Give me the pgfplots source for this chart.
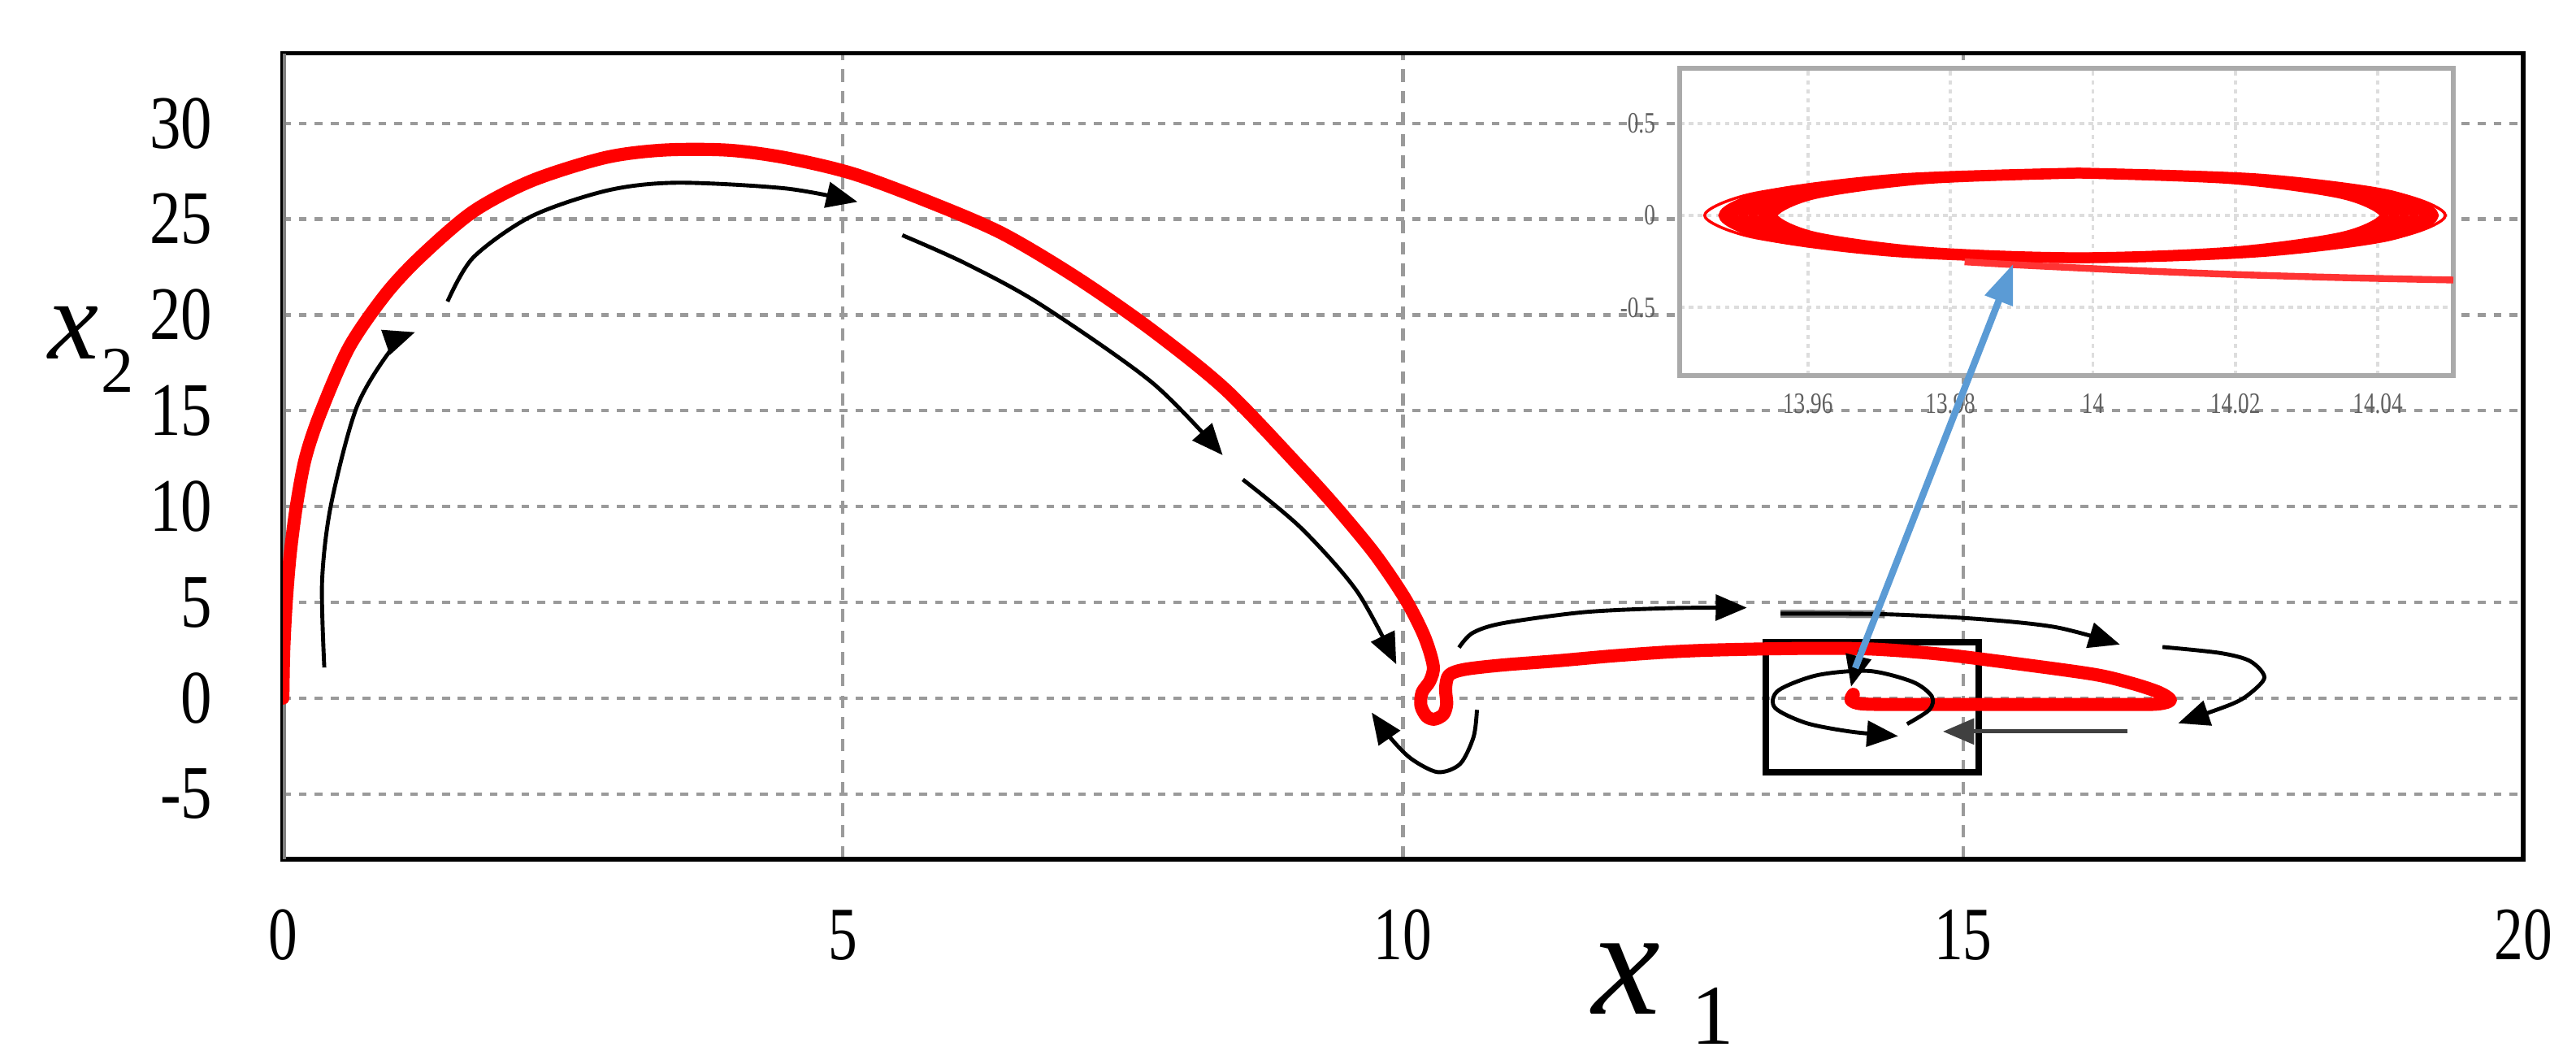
\documentclass[border=0pt]{standalone}
\usepackage{fontspec}
\setmainfont{Liberation Serif}
\usepackage{graphicx}
\usepackage{pgfplots}
\pgfplotsset{compat=1.18}
\usetikzlibrary{arrows.meta}
\definecolor{trajred}{HTML}{FF0000}
\definecolor{gridgray}{HTML}{9A9A9A}
\definecolor{insetframe}{HTML}{AAAAAA}
\definecolor{insetgrid}{HTML}{DDDDDD}
\definecolor{arrowblue}{HTML}{5B9BD5}
\definecolor{ticklab}{HTML}{606060}
\newcommand\xt[1]{\scalebox{1}[1.3]{\fontsize{10.2}{12}\selectfont #1}}
\newcommand\yt[1]{\scalebox{1}[1.21]{\fontsize{11}{13}\selectfont #1}}
\newcommand\ilab[1]{\scalebox{0.75}[1]{\fontsize{5.2}{6}\selectfont #1}}
\pgfplotsset{
  flow/.style={black, line width=0.7pt, smooth, -{Triangle[length=5.5pt,width=4.5pt]}},
  ring/.style={trajred, smooth, line width=1.6pt}}

\begin{document}
\begin{tikzpicture}
\path[use as bounding box] (-49.8pt,-35.3pt) rectangle (403.7pt,151.2pt);

% ---- main phase portrait ----
\begin{axis}[at={(0,0)}, anchor=south west, scale only axis,
    width=394.4pt, height=141.8pt,
    xmin=0, xmax=20, ymin=-8.4, ymax=33.65,
    xtick={0,5,10,15,20}, ytick={-5,0,5,10,15,20,25,30},
    xticklabels={\xt{0},\xt{5},\xt{10},\xt{15},\xt{20}},
    yticklabels={\yt{-5},\yt{0},\yt{5},\yt{10},\yt{15},\yt{20},\yt{25},\yt{30}},
    xticklabel style={anchor=center, yshift=-13.4pt, inner sep=0pt},
    yticklabel style={anchor=east, xshift=-12.2pt, inner sep=0pt},
    major tick length=0pt,
    axis line style={black, line width=0.8pt},
    xmajorgrids, ymajorgrids,
    x grid style={gridgray, line width=0.6pt, dash pattern=on 2.2pt off 1.6pt},
    y grid style={gridgray, line width=0.6pt, dash pattern=on 1.4pt off 1.4pt}]
  \draw[gray, line width=1.1pt] (rel axis cs:0,0) -- (rel axis cs:0,1);
  % zoom box
  \addplot[black, line width=1.1pt, line cap=rect] coordinates
    {(13.24,2.93)(15.14,2.93)(15.14,-3.86)(13.24,-3.86)(13.24,2.93)};
  % trajectory
  \addplot[trajred, line width=2.3pt, smooth, tension=0.5, line cap=round, line join=round] coordinates {
    (0,0)(0.008,2.5)(0.03,5)(0.065,7.5)(0.12,10)(0.2,12.5)(0.33,14.8)(0.59,18.3)
    (0.92,21.1)(1.24,23.1)(1.70,25.4)(2.22,27.0)(2.87,28.2)(3.39,28.6)(3.97,28.6)
    (4.49,28.2)(5.09,27.37)(5.76,25.92)(6.42,24.26)(7.09,21.93)(7.76,19.2)
    (8.42,16.08)(9.09,11.99)(9.42,9.85)(9.75,7.51)(10.02,5.18)(10.19,3.23)(10.27,1.68)
    (10.24,0.9)(10.17,0.3)(10.16,-0.4)(10.21,-0.95)(10.28,-1.1)(10.36,-0.85)
    (10.39,-0.3)(10.38,0.5)(10.41,1.2)(10.55,1.5)(10.89,1.73)(11.38,1.95)
    (11.86,2.2)(12.34,2.4)(12.71,2.5)(13.23,2.57)(13.7,2.6)(14.2,2.56)(14.79,2.3)
    (15.48,1.8)(16.18,1.23)(16.52,0.75)(16.75,0.3)(16.85,-0.1)(16.75,-0.3)
    (16.5,-0.33)(15.5,-0.33)(14.5,-0.33)(14.1,-0.3)(14.0,-0.1)(14.02,0.2)};
  % flow arrows
  \addplot[flow] coordinates {(0.37,1.6)(0.35,6.1)(0.43,10.1)(0.66,15.2)(0.98,18.3)(1.18,19.1)};
  \addplot[flow] coordinates {(1.47,20.7)(1.7,23.0)(2.22,25.15)(2.9,26.5)(3.52,26.9)(4.49,26.6)(5.13,25.9)};
  \addplot[flow] coordinates {(5.53,24.16)(6.09,22.7)(6.76,20.56)(7.76,16.47)(8.39,12.68)};
  \addplot[flow] coordinates {(8.57,11.41)(9.09,8.88)(9.59,5.57)(9.94,1.77)};
  \addplot[flow] coordinates {(10.66,-0.61)(10.63,-2.02)(10.51,-3.43)(10.31,-3.86)(10.07,-3.15)(9.88,-2.02)(9.72,-0.75)};
  \addplot[flow] coordinates {(10.50,2.64)(10.62,3.4)(10.89,3.91)(11.62,4.49)(12.4,4.7)(13.07,4.72)};
  \addplot[gray, line width=1.4pt] coordinates {(13.37,4.41)(14.3,4.38)};
  \addplot[flow] coordinates {(13.37,4.41)(14.3,4.38)(15.14,4.13)(15.83,3.7)(16.4,2.8)};
  \addplot[flow] coordinates {(16.78,2.67)(17.29,2.36)(17.56,1.94)(17.69,1.09)(17.56,0.24)(17.39,-0.33)(16.92,-1.31)};
  \addplot[flow, sharp plot, darkgray] coordinates {(16.47,-1.74)(14.82,-1.74)};
  \addplot[flow] coordinates {(14.5,-1.35)(14.7,-0.6)(14.72,0.1)(14.55,0.85)(14.16,1.42)(13.7,1.2)(13.35,0.4)(13.32,-0.5)(13.6,-1.3)(14.0,-1.75)(14.42,-1.98)};
  \addplot[flow, sharp plot] coordinates {(14.08,2.5)(14.0,0.6)};
\end{axis}

% ---- inset: zoom on the limit cycle ----
\begin{axis}[at={(245.9pt,85.1pt)}, anchor=south west, scale only axis,
    width=136.2pt, height=54.1pt,
    xmin=13.942, xmax=14.0506, ymin=-0.87, ymax=0.80,
    axis background/.style={fill=white},
    axis line style={insetframe, line width=0.9pt},
    major tick length=0pt, scaled ticks=false, clip=false,
    xtick={13.96,13.98,14,14.02,14.04}, ytick={-0.5,0,0.5},
    xticklabels={\ilab{13.96},\ilab{13.98},\ilab{14},\ilab{14.02},\ilab{14.04}},
    yticklabels={\ilab{-0.5},\ilab{0},\ilab{0.5}},
    xticklabel style={anchor=center, yshift=-5pt, inner sep=0pt, text=ticklab},
    yticklabel style={anchor=east, xshift=-4.1pt, inner sep=0pt, text=ticklab},
    grid=major, grid style={insetgrid, line width=0.5pt, dash pattern=on 0.8pt off 0.8pt}]
  \addplot[ring] coordinates {(13.998,.225)(14.01945,.19485)(14.03515,.1125)(14.0409,0)(14.03515,-.1125)(14.01945,-.19485)(13.998,-.225)(13.97655,-.19485)(13.96085,-.1125)(13.9551,0)(13.96085,.1125)(13.97655,.19485)(13.998,.225)};
  \addplot[ring] coordinates {(13.998,.227)(14.02015,.19658)(14.03636,.1135)(14.0423,0)(14.03636,-.1135)(14.02015,-.19658)(13.998,-.227)(13.97585,-.19658)(13.95964,-.1135)(13.9537,0)(13.95964,.1135)(13.97585,.19658)(13.998,.227)};
  \addplot[ring] coordinates {(13.998,.229)(14.02085,.19831)(14.03758,.1145)(14.0437,0)(14.03758,-.1145)(14.02085,-.19831)(13.998,-.229)(13.97515,-.19831)(13.95842,-.1145)(13.9523,0)(13.95842,.1145)(13.97515,.19831)(13.998,.229)};
  \addplot[ring] coordinates {(13.998,.231)(14.02155,.20005)(14.03879,.1155)(14.0451,0)(14.03879,-.1155)(14.02155,-.20005)(13.998,-.231)(13.97445,-.20005)(13.95721,-.1155)(13.9509,0)(13.95721,.1155)(13.97445,.20005)(13.998,.231)};
  \addplot[ring] coordinates {(13.998,.233)(14.02225,.20178)(14.04,.1165)(14.0465,0)(14.04,-.1165)(14.02225,-.20178)(13.998,-.233)(13.97375,-.20178)(13.956,-.1165)(13.9495,0)(13.956,.1165)(13.97375,.20178)(13.998,.233)};
  \addplot[ring] coordinates {(13.998,.235)(14.02295,.20351)(14.04121,.1175)(14.0479,0)(14.04121,-.1175)(14.02295,-.20351)(13.998,-.235)(13.97305,-.20351)(13.95479,-.1175)(13.9481,0)(13.95479,.1175)(13.97305,.20351)(13.998,.235)};
  \addplot[ring, line width=0.5pt] coordinates {(13.9975,.24)(14.0235,.20784)(14.04253,.12)(14.0495,0)(14.04253,-.12)(14.0235,-.20784)(13.9975,-.24)(13.9715,-.20784)(13.95247,-.12)(13.9455,0)(13.95247,.12)(13.9715,.20784)(13.9975,.24)};
  \addplot[ring, trajred!80, line width=1.2pt] coordinates {(14.0506,-0.351)(14.035,-0.338)(14.02,-0.321)(14.005,-0.298)(13.99,-0.27)(13.982,-0.252)};
  \addplot[arrowblue, sharp plot, line width=1.2pt, -{Triangle[length=7pt,width=5pt]}] coordinates {(13.96665,-2.459)(13.98882,-0.263)};
\end{axis}

% ---- axis titles ----
\node[anchor=base, inner sep=0pt, font=\fontsize{27}{27}\selectfont\itshape] at (236.5pt,-27.2pt) {x};
\node[anchor=base west, inner sep=0pt, font=\fontsize{15}{15}\selectfont] at (247.8pt,-32.6pt) {1};
\node[anchor=base, inner sep=0pt, font=\fontsize{20}{20}\selectfont\itshape] at (-36.8pt,88pt) {x};
\node[anchor=base west, inner sep=0pt, font=\fontsize{11.5}{11.5}\selectfont] at (-32.2pt,82.1pt) {2};
\end{tikzpicture}
\end{document}
